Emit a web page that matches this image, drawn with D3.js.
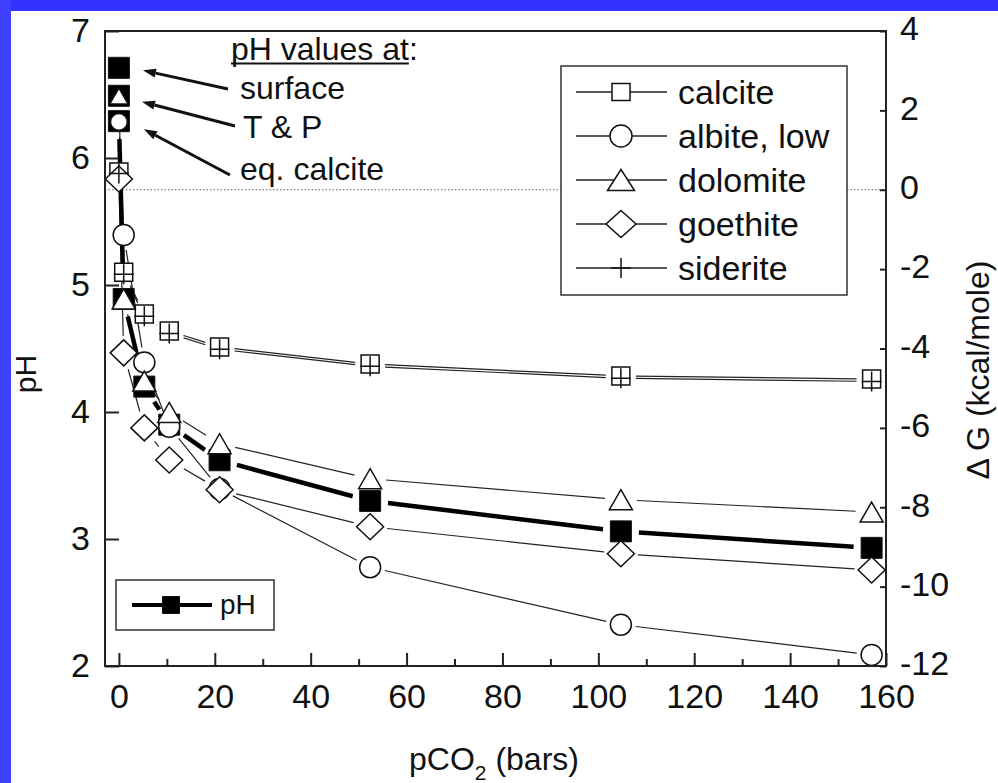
<!DOCTYPE html>
<html>
<head>
<meta charset="utf-8">
<script src="https://cdn.jsdelivr.net/npm/d3@7"></script>
<style>
body { margin: 0; background: #fff; }
svg text { font-family: "Liberation Sans", Arial, Helvetica, sans-serif; fill: #111; }
</style>
</head>
<body>
<svg id="chart" width="998" height="783"></svg>
<script>
// pCO2 (bars) of each computed point
var pco2 = [0, 1, 5.3, 10.5, 21, 52.4, 104.7, 157];
// pH (left axis)
var pH = [6.29, 4.89, 4.2, 3.9, 3.62, 3.3, 3.06, 2.93];
var startLabels = ["surface", "T & P", "eq. calcite"];
var startPH = [6.71, 6.49, 6.29];
// delta G, kcal/mole (right axis)
var calcite  = [0.45, -2.08, -3.13, -3.56, -3.96, -4.39, -4.69, -4.77];
var albite   = [1.71, -1.14, -4.35, -5.97, -7.54, -9.51, -10.96, -11.72];
var dolomite = [2.36, -2.75, -4.82, -5.61, -6.4, -7.28, -7.81, -8.12];
var goethite = [0.27, -4.11, -6.0, -6.81, -7.56, -8.49, -9.17, -9.58];
var siderite = [0.41, -2.13, -3.19, -3.62, -4.02, -4.45, -4.75, -4.83];
var seriesNames = ["calcite", "albite, low", "dolomite", "goethite", "siderite"];
var xTicks = [0, 20, 40, 60, 80, 100, 120, 140, 160];
var xMinor = [10, 30, 50, 70, 90, 110, 130, 150];
var phTicks = [2, 3, 4, 5, 6, 7];
var dgTicks = [-12, -10, -8, -6, -4, -2, 0, 2, 4];

var svg = d3.select("#chart");
svg.append("rect").attr("width", 998).attr("height", 783).attr("fill", "#fff");
svg.append("rect").attr("width", 998).attr("height", 11).attr("fill", "#3333ff");
svg.append("rect").attr("width", 11).attr("height", 783).attr("fill", "#4040ff");

var x = d3.scaleLinear().domain([-2.9, 160]).range([105, 886]);
var yL = d3.scaleLinear().domain([2, 7]).range([666, 31]);
var yR = d3.scaleLinear().domain([-12, 4]).range([666, 31]);

var shapes = {
    square:   { w: 18, h: 18, gap: 15 },
    circle:   { w: 21, h: 21, gap: 15 },
    triangle: { w: 23, h: 20, gap: 16 },
    diamond:  { w: 27, h: 26, gap: 17 },
    plus:     { w: 20, h: 20, gap: 15 },
    filled:   { w: 21, h: 21, gap: 18 }
};

function markerPath(shape, cx, cy, w, h) {
    var hw = w / 2, hh = h / 2;
    if (shape === "triangle")
        return "M" + cx + "," + (cy - hh) + "L" + (cx + hw) + "," + (cy + hh) + "L" + (cx - hw) + "," + (cy + hh) + "Z";
    if (shape === "diamond")
        return "M" + cx + "," + (cy - hh) + "L" + (cx + hw) + "," + cy + "L" + cx + "," + (cy + hh) + "L" + (cx - hw) + "," + cy + "Z";
    if (shape === "plus")
        return "M" + (cx - hw) + "," + cy + "H" + (cx + hw) + "M" + cx + "," + (cy - hh) + "V" + (cy + hh);
    if (shape === "circle")
        return "M" + (cx - hw) + "," + cy + "A" + hw + "," + hh + " 0 1,0 " + (cx + hw) + "," + cy + "A" + hw + "," + hh + " 0 1,0 " + (cx - hw) + "," + cy + "Z";
    return "M" + (cx - hw) + "," + (cy - hh) + "H" + (cx + hw) + "V" + (cy + hh) + "H" + (cx - hw) + "Z";
}

function drawMarker(g, shape, cx, cy, w, h) {
    var filled = shape === "filled";
    g.append("path")
        .attr("d", markerPath(filled ? "square" : shape, cx, cy, w, h))
        .attr("fill", filled ? "#000" : (shape === "plus" ? "none" : "#fff"))
        .attr("stroke", "#111")
        .attr("stroke-width", filled ? 1 : 1.5);
}

// line segments stop short of the markers
function gapSegments(pts, gap) {
    var segs = [];
    for (var i = 1; i < pts.length; i++) {
        var a = pts[i - 1], b = pts[i];
        var dx = b[0] - a[0], dy = b[1] - a[1], len = Math.hypot(dx, dy);
        if (len <= 2 * gap) continue;
        var ux = dx / len, uy = dy / len;
        segs.push([a[0] + ux * gap, a[1] + uy * gap, b[0] - ux * gap, b[1] - uy * gap]);
    }
    return segs;
}

// zero line of delta G
svg.append("line")
    .attr("x1", x.range()[0]).attr("x2", x.range()[1])
    .attr("y1", yR(0)).attr("y2", yR(0))
    .attr("stroke", "#666").attr("stroke-width", 1.2).attr("stroke-dasharray", "1.5,2");

var series = [
    { values: calcite, shape: "square" },
    { values: albite, shape: "circle" },
    { values: dolomite, shape: "triangle" },
    { values: goethite, shape: "diamond" },
    { values: siderite, shape: "plus" }
];

var lines = svg.append("g");
series.forEach(function(s) {
    var pts = s.values.map(function(v, i) { return [x(pco2[i]), yR(v)]; });
    lines.selectAll(null).data(gapSegments(pts, shapes[s.shape].gap)).enter()
        .append("line")
        .attr("x1", function(d) { return d[0]; }).attr("y1", function(d) { return d[1]; })
        .attr("x2", function(d) { return d[2]; }).attr("y2", function(d) { return d[3]; })
        .attr("stroke", "#222").attr("stroke-width", 1.2);
});

var phPts = pH.map(function(v, i) { return [x(pco2[i]), yL(v)]; });
lines.selectAll(null).data(gapSegments(phPts, shapes.filled.gap)).enter()
    .append("line")
    .attr("x1", function(d) { return d[0]; }).attr("y1", function(d) { return d[1]; })
    .attr("x2", function(d) { return d[2]; }).attr("y2", function(d) { return d[3]; })
    .attr("stroke", "#000").attr("stroke-width", 4.5);

var marks = svg.append("g");
startPH.forEach(function(v) {
    drawMarker(marks, "filled", x(0), yL(v), shapes.filled.w, shapes.filled.h);
});
pH.forEach(function(v, i) {
    if (i === 0) return;
    drawMarker(marks, "filled", x(pco2[i]), yL(v), shapes.filled.w, shapes.filled.h);
});
series.forEach(function(s) {
    var sh = shapes[s.shape];
    s.values.forEach(function(v, i) {
        // the first albite / dolomite points sit inside the pH squares
        var k = (i === 0 && (s.shape === "triangle" || s.shape === "circle")) ? 0.8 : 1;
        drawMarker(marks, s.shape, x(pco2[i]), yR(v), sh.w * k, sh.h * k);
    });
});

// axes
var font = 34;
function styleAxis(g) {
    g.select(".domain").remove();
    g.selectAll(".tick line").attr("stroke", "#222").attr("stroke-width", 2);
    g.selectAll(".tick text").attr("font-size", font).attr("fill", "#111")
        .attr("font-family", "Liberation Sans, Arial, sans-serif");
}
svg.append("g").attr("transform", "translate(0,666)")
    .call(d3.axisBottom(x).tickValues(xTicks).tickSize(-13).tickPadding(18).tickFormat(function(d) { return String(d); }))
    .call(styleAxis);
svg.append("g").attr("transform", "translate(0,666)")
    .call(d3.axisBottom(x).tickValues(xMinor).tickSize(-7).tickFormat(""))
    .call(styleAxis);
svg.append("g").attr("transform", "translate(105,0)")
    .call(d3.axisLeft(yL).tickValues(phTicks).tickSize(-14).tickPadding(15).tickFormat(function(d) { return String(d); }))
    .call(styleAxis);
svg.append("g").attr("transform", "translate(886,0)")
    .call(d3.axisRight(yR).tickValues(dgTicks).tickSize(-6).tickPadding(14).tickFormat(function(d) { return String(d); }))
    .call(styleAxis)
    .selectAll(".tick text").attr("dy", "0.26em");

svg.append("rect")
    .attr("x", x.range()[0]).attr("y", yL.range()[1])
    .attr("width", x.range()[1] - x.range()[0]).attr("height", yL.range()[0] - yL.range()[1])
    .attr("fill", "none").attr("stroke", "#222").attr("stroke-width", 2);

// axis titles
var xt = svg.append("text").attr("x", 494).attr("y", 770).attr("text-anchor", "middle").attr("font-size", 32);
xt.append("tspan").text("pCO");
xt.append("tspan").attr("font-size", 21).attr("dy", 10).text("2");
xt.append("tspan").attr("dy", -10).text(" (bars)");

svg.append("text").attr("transform", "translate(36,374) rotate(-90)")
    .attr("text-anchor", "middle").attr("font-size", 30).text("pH");
svg.append("text").attr("transform", "translate(989,370) rotate(-90)")
    .attr("text-anchor", "middle").attr("font-size", 32).text("\u0394 G (kcal/mole)");

// legend for delta G series
var leg = svg.append("g");
leg.append("rect").attr("x", 561).attr("y", 66).attr("width", 286).attr("height", 229)
    .attr("fill", "#fff").attr("stroke", "#333").attr("stroke-width", 1.5);
var legShapes = {
    square: [18, 17], circle: [22, 22], triangle: [27, 21], diamond: [30, 27], plus: [20, 20]
};
seriesNames.forEach(function(name, i) {
    var cy = 92 + i * 44;
    leg.append("line").attr("x1", 576).attr("x2", 667).attr("y1", cy).attr("y2", cy)
        .attr("stroke", "#222").attr("stroke-width", 1.3);
    var ls = legShapes[series[i].shape];
    drawMarker(leg, series[i].shape, 621, cy, ls[0], ls[1]);
    leg.append("text").attr("x", 678).attr("y", cy + 11.5).attr("font-size", font).text(name);
});

// legend for pH
var leg2 = svg.append("g");
leg2.append("rect").attr("x", 116).attr("y", 580).attr("width", 158).attr("height", 50)
    .attr("fill", "#fff").attr("stroke", "#333").attr("stroke-width", 1.5);
leg2.append("line").attr("x1", 132).attr("x2", 212).attr("y1", 605).attr("y2", 605)
    .attr("stroke", "#000").attr("stroke-width", 4);
drawMarker(leg2, "filled", 171, 605, 17, 17);
leg2.append("text").attr("x", 220).attr("y", 614).attr("font-size", 28).text("pH");

// annotation of the starting pH values
var ann = svg.append("g");
var head = ann.append("text").attr("x", 231).attr("y", 60).attr("font-size", 32);
var headMain = head.append("tspan").text("pH values at");
head.append("tspan").text(":");
var uw = headMain.node().getComputedTextLength();
ann.append("line").attr("x1", 231).attr("x2", 231 + uw).attr("y1", 63.5).attr("y2", 63.5)
    .attr("stroke", "#111").attr("stroke-width", 2);

var labelX = [240, 243, 240];
var labelY = [99, 138, 180];
var tailDX = [-12, -8, -10];
var tailDY = [-10, -12, -5];
var tipDX = [24, 23, 25];
var tipDY = [2.5, 6, 8];
startLabels.forEach(function(lbl, i) {
    ann.append("text").attr("x", labelX[i]).attr("y", labelY[i]).attr("font-size", 32).text(lbl);
    var tx = x(0) + tipDX[i], ty = yL(startPH[i]) + tipDY[i];
    var sx = labelX[i] + tailDX[i], sy = labelY[i] + tailDY[i];
    var dx = tx - sx, dy = ty - sy, len = Math.hypot(dx, dy);
    var ux = dx / len, uy = dy / len;
    var hl = 13, hw = 4.5;
    var bx = tx - ux * hl, by = ty - uy * hl;
    ann.append("line").attr("x1", sx).attr("y1", sy).attr("x2", bx).attr("y2", by)
        .attr("stroke", "#111").attr("stroke-width", 3);
    ann.append("path")
        .attr("d", "M" + tx + "," + ty + "L" + (bx - uy * hw) + "," + (by + ux * hw) + "L" + (bx + uy * hw) + "," + (by - ux * hw) + "Z")
        .attr("fill", "#111");
});
</script>
</body>
</html>
